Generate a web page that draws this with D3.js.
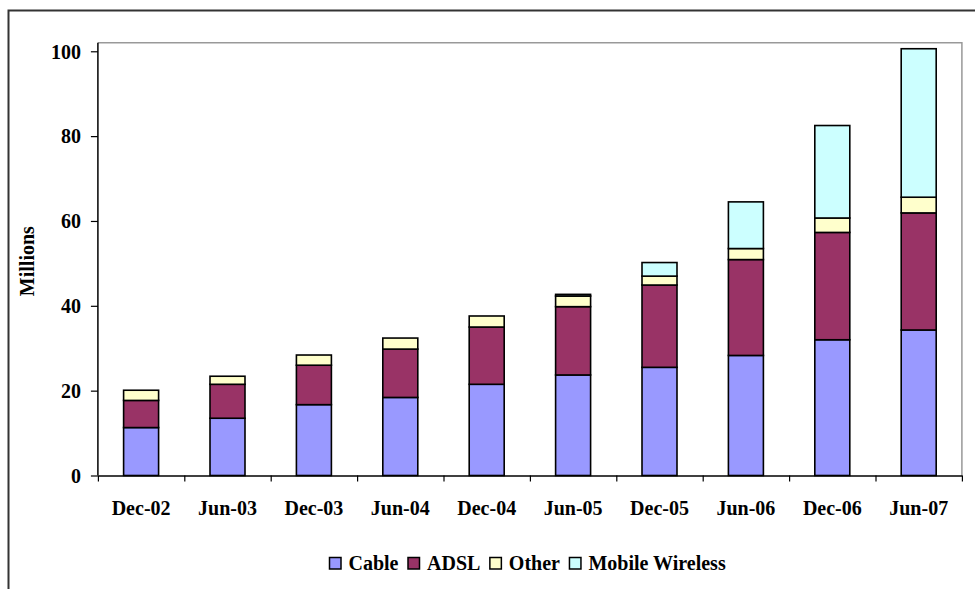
<!DOCTYPE html>
<html>
<head>
<meta charset="utf-8">
<script src="https://cdn.jsdelivr.net/npm/d3@7"></script>
<style>
  html, body { margin: 0; padding: 0; background: #fff; }
  svg { display: block; }
  text { font-family: "Liberation Serif", "Times New Roman", serif; font-weight: bold; fill: #000; }
</style>
</head>
<body>
<svg id="chart" width="975" height="589"></svg>
<script>
// Broadband subscribers by technology, millions
const periods = ["Dec-02", "Jun-03", "Dec-03", "Jun-04", "Dec-04", "Jun-05", "Dec-05", "Jun-06", "Dec-06", "Jun-07"];
const cable   = [11.3, 13.5, 16.7, 18.4, 21.5, 23.7, 25.5, 28.3, 32.0, 34.3];
const adsl    = [6.4, 8.0, 9.3, 11.4, 13.5, 16.1, 19.4, 22.6, 25.3, 27.6];
const other   = [2.4, 1.9, 2.4, 2.6, 2.6, 2.5, 2.1, 2.6, 3.4, 3.7];
const mobile  = [0, 0, 0, 0, 0, 0.4, 3.2, 11.0, 21.8, 35.0];
const seriesNames = ["Cable", "ADSL", "Other", "Mobile Wireless"];
const yTicks = [0, 20, 40, 60, 80, 100];
const colors = ["#9999FF", "#993366", "#FFFFCC", "#CCFFFF"];

const rows = periods.map((p, i) => ({
  period: p, Cable: cable[i], ADSL: adsl[i], Other: other[i], "Mobile Wireless": mobile[i]
}));

const svg = d3.select("#chart");
const plot = { left: 97.9, right: 961.9, top: 42.8, bottom: 475.5 };

// outer chart frame
svg.append("rect")
  .attr("x", 8.5).attr("y", 10.5)
  .attr("width", 1000).attr("height", 700)
  .attr("fill", "none").attr("stroke", "#333").attr("stroke-width", 2);

const x = d3.scaleBand()
  .domain(periods)
  .range([plot.left, plot.right])
  .paddingInner(0.595)
  .paddingOuter(0.2975);

const y = d3.scaleLinear()
  .domain([0, 102])
  .range([plot.bottom, plot.top]);

const color = d3.scaleOrdinal().domain(seriesNames).range(colors);

// plot-area border (top and right)
svg.append("path")
  .attr("d", `M${plot.left},${plot.top}H${plot.right}V${plot.bottom}`)
  .attr("fill", "none").attr("stroke", "#999").attr("stroke-width", 1.5);

const stack = d3.stack().keys(seriesNames)(rows);

svg.append("g").selectAll("g")
  .data(stack)
  .join("g")
  .attr("fill", d => color(d.key))
  .selectAll("rect")
  .data(d => d.filter(s => s[1] - s[0] > 0))
  .join("rect")
  .attr("x", d => x(d.data.period))
  .attr("width", x.bandwidth())
  .attr("y", d => y(d[1]))
  .attr("height", d => y(d[0]) - y(d[1]))
  .attr("stroke", "#000")
  .attr("stroke-width", 1.6);

// y axis
const yAxis = svg.append("g")
  .attr("transform", `translate(${plot.left},0)`)
  .call(d3.axisLeft(y).tickValues(yTicks).tickSize(7).tickPadding(10).tickSizeOuter(0));
yAxis.select(".domain").attr("stroke", "#000").attr("stroke-width", 1.5)
  .attr("d", `M0,${plot.top}V${plot.bottom}`);
yAxis.selectAll(".tick line").attr("stroke", "#000").attr("stroke-width", 1.2);
yAxis.selectAll(".tick text")
  .attr("font-size", 20).attr("font-family", "Liberation Serif, serif")
  .attr("font-weight", "bold").attr("fill", "#000").attr("dy", "0.34em");

// x axis: tick marks at category boundaries
const xb = d3.scaleLinear().domain([0, periods.length]).range([plot.left, plot.right]);
const xTickAxis = svg.append("g")
  .attr("transform", `translate(0,${plot.bottom})`)
  .call(d3.axisBottom(xb).tickValues(d3.range(periods.length + 1)).tickFormat("").tickSize(6).tickSizeOuter(0));
xTickAxis.select(".domain").attr("stroke", "#000").attr("stroke-width", 1.5);
xTickAxis.selectAll(".tick line").attr("stroke", "#000").attr("stroke-width", 1.2);

// x labels
const xLab = svg.append("g")
  .attr("transform", `translate(0,${plot.bottom})`)
  .call(d3.axisBottom(x).tickSize(0).tickPadding(25));
xLab.select(".domain").remove();
xLab.selectAll(".tick text")
  .attr("font-size", 20).attr("font-family", "Liberation Serif, serif")
  .attr("font-weight", "bold").attr("fill", "#000");

// y title
svg.append("text")
  .attr("transform", `translate(34,${(plot.top + plot.bottom) / 2 + 2}) rotate(-90)`)
  .attr("text-anchor", "middle")
  .attr("font-size", 20)
  .text("Millions");

// legend
const legend = svg.append("g").attr("transform", "translate(329.5,557.5)");
let lx = 0;
seriesNames.forEach(name => {
  const g = legend.append("g").attr("transform", `translate(${lx},0)`);
  g.append("rect")
    .attr("width", 11.5).attr("height", 11.5)
    .attr("fill", color(name)).attr("stroke", "#000").attr("stroke-width", 1.5);
  const t = g.append("text")
    .attr("x", 19).attr("y", 12)
    .attr("font-size", 20)
    .text(name);
  lx += 19 + t.node().getComputedTextLength() + 9.5;
});
</script>
</body>
</html>
